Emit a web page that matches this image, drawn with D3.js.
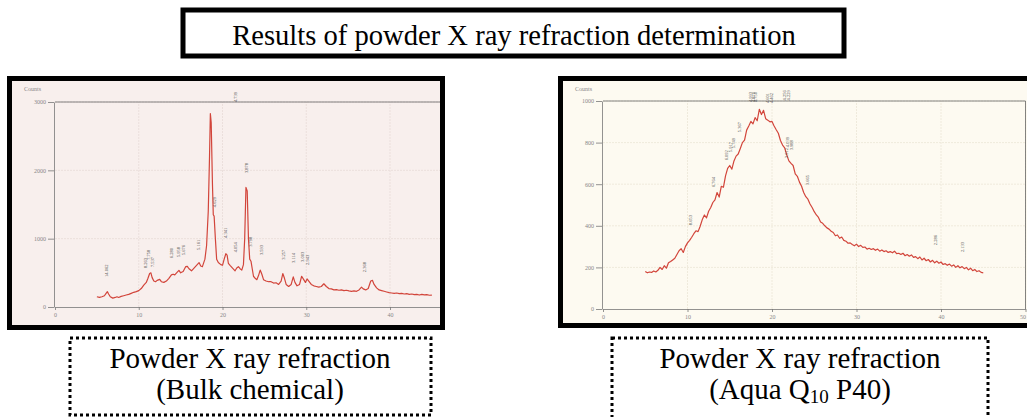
<!DOCTYPE html>
<html><head><meta charset="utf-8">
<script src="https://cdn.jsdelivr.net/npm/d3@7"></script>
<style>html,body{margin:0;padding:0;background:#fff;}svg{display:block;}</style>
</head><body>
<svg id="c" width="1027" height="417"></svg>
<script>
// ---------- DATA ----------
const titleText = "Results of powder X ray refraction determination";
const captionLeft = ["Powder X ray refraction", "(Bulk chemical)"];
const captionRight = ["Powder X ray refraction", "(Aqua Q", "10", " P40)"];

const xTicks = [0, 10, 20, 30, 40, 50];
const bulkYTicks = [0, 1000, 2000, 3000];
const aquaYTicks = [0, 200, 400, 600, 800, 1000];

// Bulk chemical: 2-theta (deg) and counts
const bulkAngle = [5.0,5.3,5.6,5.9,6.1,6.25,6.4,6.6,6.9,7.2,7.4,7.6,7.9,8.2,8.5,8.8,9.1,9.4,9.7,10.0,
 10.3,10.6,10.9,11.1,11.3,11.45,11.6,11.8,12.0,12.2,12.5,12.7,13.0,13.3,13.6,13.9,14.1,14.3,14.6,14.8,
 15.0,15.3,15.6,15.8,16.0,16.3,16.6,16.9,17.2,17.4,17.6,17.9,18.1,18.3,18.45,18.55,18.65,18.8,18.9,19.0,
 19.15,19.3,19.5,19.8,20.0,20.2,20.4,20.55,20.7,20.9,21.2,21.5,21.7,21.9,22.1,22.3,22.5,22.65,22.8,22.95,
 23.1,23.25,23.4,23.55,23.7,23.9,24.1,24.3,24.5,24.7,24.9,25.2,25.5,25.8,26.1,26.4,26.7,27.0,27.2,27.4,
 27.6,27.9,28.2,28.45,28.65,28.9,29.2,29.45,29.7,29.9,30.1,30.3,30.6,30.9,31.2,31.5,31.8,32.1,32.4,32.7,
 33.0,33.3,33.6,33.9,34.2,34.5,34.8,35.1,35.4,35.7,36.0,36.3,36.6,36.8,37.1,37.4,37.7,37.9,38.1,38.4,
 38.7,39.0,39.3,39.6,39.9,40.2,40.5,40.8,41.1,41.4,41.7,42.0,42.3,42.6,42.9,43.2,43.5,43.8,44.1,44.4,44.7,45.0];
const bulkCounts = [150,140,150,165,200,225,190,150,130,140,150,140,155,165,175,185,200,215,225,240,
 270,320,360,420,490,500,430,380,370,390,405,370,360,380,420,470,480,470,510,535,
 500,520,590,595,560,530,570,610,650,600,590,700,900,1400,2200,2830,2700,1800,1350,1330,
 1000,700,650,620,610,700,780,760,640,610,570,530,570,590,560,540,620,1000,1750,1700,
 1000,700,670,560,450,420,400,460,540,480,400,380,370,370,350,355,330,380,490,420,
 330,300,330,440,360,310,330,450,400,360,410,380,330,310,300,290,300,340,300,270,
 265,250,255,245,250,240,245,235,230,235,230,250,290,265,250,270,380,390,330,280,
 250,240,230,220,210,205,200,205,195,200,190,195,185,190,180,185,175,185,178,180,172,175];

// Aqua Q10 P40: counts sampled every 0.25 deg from 5 to 45
const aquaStart = 5, aquaStep = 0.25;
const aquaCounts = [180,174,178,176,183,178,186,200,190,208,196,222,228,236,244,262,280,290,272,300,
 318,330,345,362,376,372,398,430,452,438,470,488,512,525,560,538,590,585,640,676,
 690,672,712,735,745,772,800,812,860,880,902,890,920,905,960,935,955,915,908,900,
 902,880,862,845,810,788,775,740,712,700,690,650,638,610,590,560,540,528,505,488,
 468,452,440,418,412,400,390,384,374,368,352,356,340,346,330,326,316,318,310,304,
 312,300,306,296,298,288,292,286,290,282,288,278,284,276,280,272,276,270,278,266,
 268,262,268,256,262,254,260,248,252,242,250,236,244,232,238,226,234,222,230,220,
 226,214,218,210,216,206,212,200,208,198,204,194,200,188,196,184,190,180,184,176,174];

// Peak d-spacing labels: text, angle, count at label foot
const bulkLabelText  = ["14.062","8.263","7.758","7.537","6.280","5.958","5.676","5.161","4.739","4.629","4.341","4.054","3.878","3.798","3.593","3.257","3.114","3.003","2.943","2.368"];
const bulkLabelAngle = [6.1,10.75,11.2,11.6,13.9,14.8,15.4,17.1,21.6,19.0,20.4,21.6,22.9,23.4,24.7,27.3,28.5,29.6,30.1,36.9];
const bulkLabelCount = [440,570,690,585,715,730,760,835,3000,1460,1010,800,1960,880,760,690,645,660,615,510];

const aquaLabelText  = ["8.653","6.764","6.092","5.917","5.749","5.367","4.993","4.870","4.750","4.601","4.462","4.256","4.229","4.039","3.988","3.912","3.665","2.286","2.133"];
const aquaLabelAngle = [10.3,13.05,14.6,15.1,15.5,16.2,17.5,17.8,18.1,19.45,19.95,21.5,21.9,21.85,22.3,21.7,24.2,39.3,42.6];
const aquaLabelCount = [403,586,715,754,773,850,995,995,995,990,990,1003,1003,778,763,725,595,307,274];

// ---------- DRAW ----------
const W = 1027;
const svg = d3.select("#c");
const serif = "'Liberation Serif','Times New Roman',serif";

// Title box
svg.append("rect").attr("x",183).attr("y",10).attr("width",661).attr("height",46)
  .attr("fill","#fff").attr("stroke","#000").attr("stroke-width",5);
svg.append("text").attr("x",514).attr("y",45).attr("text-anchor","middle")
  .attr("font-family",serif).attr("font-size",28.6).text(titleText);

function panel(cfg){
  const g = svg.append("g");
  const clipId = cfg.id + "clip";
  svg.append("clipPath").attr("id",clipId).append("rect")
    .attr("x",cfg.fx).attr("y",cfg.fy).attr("width",cfg.fw).attr("height",cfg.fh);
  const inner = g.append("g").attr("clip-path",`url(#${clipId})`);
  inner.append("rect").attr("x",cfg.fx).attr("y",cfg.fy).attr("width",cfg.fw).attr("height",cfg.fh).attr("fill",cfg.bg);

  const x = d3.scaleLinear().domain([0,50]).range(cfg.xr);
  const y = d3.scaleLinear().domain([0,cfg.ymax]).range(cfg.yr);

  // faint grid
  inner.append("g").selectAll("line.v").data(xTicks.slice(1)).join("line")
    .attr("x1",d=>x(d)).attr("x2",d=>x(d)).attr("y1",y(0)).attr("y2",y(cfg.ymax))
    .attr("stroke",cfg.grid).attr("stroke-width",1).attr("stroke-dasharray","2,1");
  inner.append("g").selectAll("line.h").data(cfg.yTicks.slice(1)).join("line")
    .attr("x1",x(0)).attr("x2",x(50)).attr("y1",d=>y(d)).attr("y2",d=>y(d))
    .attr("stroke",cfg.grid).attr("stroke-width",1).attr("stroke-dasharray","2,1");

  // frame lines (top & right)
  inner.append("line").attr("x1",x(0)).attr("x2",x(50)).attr("y1",y(cfg.ymax)).attr("y2",y(cfg.ymax))
    .attr("stroke","#666").attr("stroke-width",0.8);
  inner.append("line").attr("x1",x(50)).attr("x2",x(50)).attr("y1",y(0)).attr("y2",y(cfg.ymax))
    .attr("stroke","#666").attr("stroke-width",0.8);

  const ya = d3.axisLeft(y).tickValues(cfg.yTicks).tickFormat(d3.format("d")).tickSize(6).tickSizeOuter(0).tickPadding(2);
  const yg = inner.append("g").attr("transform",`translate(${x(0)-1},0)`).call(ya);
  const xa = d3.axisBottom(x).tickValues(xTicks).tickFormat(d3.format("d")).tickSize(3).tickSizeOuter(0).tickPadding(3);
  const xg = inner.append("g").attr("transform",`translate(0,${y(0)})`).call(xa);
  [yg,xg].forEach(a=>{
    a.selectAll("path,line").attr("stroke","#777").attr("stroke-width",0.8);
    a.selectAll("text").attr("font-family",serif).attr("font-size",6).attr("fill","#888");
  });
  // keep the last x label inside the visible area
  const visRight = Math.min(cfg.fx + cfg.fw, W);
  xg.selectAll(".tick text").filter(d=>x(d)+4 > visRight && x(d) < visRight)
    .attr("text-anchor","end").attr("dx",(visRight - 1.5) - x(null === 0 ? 0 : 0) > 0 ? 0 : 0)
    .attr("x", d => (visRight - 1.5) - x(d));
  inner.append("text").attr("x",cfg.fx+12).attr("y",cfg.fy+10)
    .attr("font-family",serif).attr("font-size",6).attr("fill","#888").text("Counts");

  const line = d3.line().x(d=>x(d[0])).y(d=>y(d[1]));
  inner.append("path").datum(cfg.data).attr("d",line).attr("fill","none")
    .attr("stroke","#d2453b").attr("stroke-width",1.2).attr("stroke-linejoin","round");

  inner.append("g").selectAll("text").data(cfg.labels).join("text")
    .attr("transform",d=>`translate(${x(d[1])+1.5},${y(d[2])}) rotate(-90)`)
    .attr("font-family",serif).attr("font-size",4.5).attr("fill","#444").text(d=>d[0]);

  // black border
  g.append("rect").attr("x",cfg.fx-2.5).attr("y",cfg.fy-2.5).attr("width",cfg.fw+5).attr("height",cfg.fh+5)
    .attr("fill","none").attr("stroke","#000").attr("stroke-width",5);
}

panel({id:"L", fx:12, fy:81, fw:428, fh:244, bg:"#f8efed", grid:"#ebdfdc",
  xr:[55,55+8.375*50], yr:[307,102], ymax:3000, yTicks:bulkYTicks,
  data: bulkAngle.map((a,i)=>[a,bulkCounts[i]]),
  labels: bulkLabelText.map((t,i)=>[t,bulkLabelAngle[i],bulkLabelCount[i]])});

panel({id:"R", fx:563, fy:81, fw:470, fh:242, bg:"#fdfaf1", grid:"#efeadc",
  xr:[603,603+8.45*50], yr:[309,101], ymax:1000, yTicks:aquaYTicks,
  data: aquaCounts.map((c,i)=>[aquaStart+i*aquaStep,c]),
  labels: aquaLabelText.map((t,i)=>[t,aquaLabelAngle[i],aquaLabelCount[i]])});

// Captions with dotted boxes
function caption(x0,y0,w,h,cx,lines,sub){
  svg.append("rect").attr("x",x0).attr("y",y0).attr("width",w).attr("height",h)
    .attr("fill","none").attr("stroke","#000").attr("stroke-width",3).attr("stroke-dasharray","3,3");
  svg.append("text").attr("x",cx).attr("y",368).attr("text-anchor","middle")
    .attr("font-family",serif).attr("font-size",29).text(lines[0]);
  const t2 = svg.append("text").attr("x",cx).attr("y",399).attr("text-anchor","middle")
    .attr("font-family",serif).attr("font-size",29);
  if(sub){
    t2.append("tspan").text(lines[1]);
    t2.append("tspan").attr("font-size",19).attr("dy",4).text(lines[2]);
    t2.append("tspan").attr("dy",-4).text(lines[3]);
  } else t2.text(lines[1]);
}
caption(70,338,361,77,250,captionLeft,false);
caption(612,338,376,90,800,captionRight,true);
</script>
</body></html>
